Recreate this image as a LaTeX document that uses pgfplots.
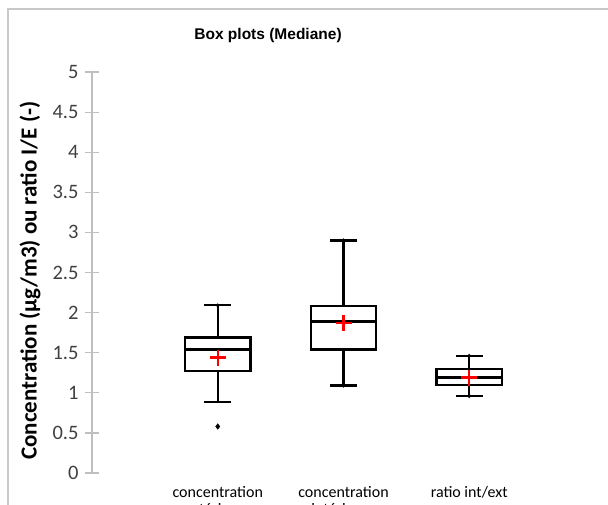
\documentclass[border=0pt]{standalone}
\usepackage{pgfplots}
\pgfplotsset{compat=1.18}
\usepgfplotslibrary{statistics}
\usepackage{fontspec}
\setmainfont{Carlito}
\newfontfamily\arialfont{Liberation Sans}
\definecolor{axgray}{RGB}{191,191,191}
\definecolor{framegray}{RGB}{200,200,200}
\definecolor{tickgray}{RGB}{64,64,64}
\begin{document}
\begin{tikzpicture}[x=1pt,y=1pt]
\path[use as bounding box] (0,0) rectangle (608,504);
\draw[framegray, line width=1.5pt] (8,-30) rectangle (660,495);
\begin{axis}[
  at={(92pt,31pt)}, anchor=south west,
  scale only axis, width=503pt, height=401pt,
  xmin=0, xmax=4, ymin=0, ymax=5,
  clip=false,
  boxplot/draw direction=y,
  boxplot/every box/.style={draw=black, line width=2.2pt},
  boxplot/every median/.style={draw=black, line width=2.2pt},
  boxplot/every whisker/.style={draw=black, line width=2.2pt},
  axis x line=bottom, axis y line=left,
  axis line style={-},
  x axis line style={draw=none},
  y axis line style={axgray, line width=1.2pt},
  xtick={1,2,3},
  xticklabels={{concentration\\extérieure},{concentration\\intérieure},{ratio int/ext}},
  xticklabel style={align=center, font=\fontsize{16}{17}\selectfont, text=black, yshift=-3pt},
  major x tick style={draw=none},
  ytick={0,0.5,1,1.5,2,2.5,3,3.5,4,4.5,5},
  yticklabels={0,0.5,1,1.5,2,2.5,3,3.5,4,4.5,5},
  yticklabel style={font=\fontsize{20.5}{21}\selectfont, text=tickgray, xshift=-3pt},
  /pgf/number format/assume math mode=true,
  major y tick style={axgray, line width=1.2pt},
  tick align=center, major tick length=14pt,
  ylabel={Concentration (µg/m3) ou ratio I/E (-)},
  ylabel style={font=\bfseries\fontsize{23}{25}\selectfont, at={(axis description cs:-0.123,0.48)}, anchor=center},
  title={Box plots (Mediane)},
  title style={font=\arialfont\bfseries\fontsize{15.5}{17}\selectfont, at={(axis description cs:0.35,1.077)}, anchor=center},
]
\addplot[black, line width=2.2pt, boxplot prepared={draw position=1, median=1.54, upper quartile=1.69, lower quartile=1.27, upper whisker=2.09, lower whisker=0.89, box extend=0.52, whisker extend=0.215}] coordinates {};
\addplot[black, line width=2.2pt, boxplot prepared={draw position=2, median=1.89, upper quartile=2.08, lower quartile=1.54, upper whisker=2.90, lower whisker=1.09, box extend=0.52, whisker extend=0.215}] coordinates {};
\addplot[black, line width=2.2pt, boxplot prepared={draw position=3, median=1.19, upper quartile=1.30, lower quartile=1.10, upper whisker=1.46, lower whisker=0.96, box extend=0.52, whisker extend=0.215}] coordinates {};
\addplot[only marks, mark=*, mark size=1.8pt, black] coordinates {(1,2.09) (2,2.90) (2,1.09) (3,1.46) (3,0.96)};
\addplot[only marks, mark=diamond*, mark size=2.8pt, black] coordinates {(1,0.58)};
\addplot[only marks, mark=+, mark size=8pt, red, mark options={line width=2.4pt}] coordinates {(1,1.44) (2,1.87) (3,1.19)};
\end{axis}
\end{tikzpicture}
\end{document}
